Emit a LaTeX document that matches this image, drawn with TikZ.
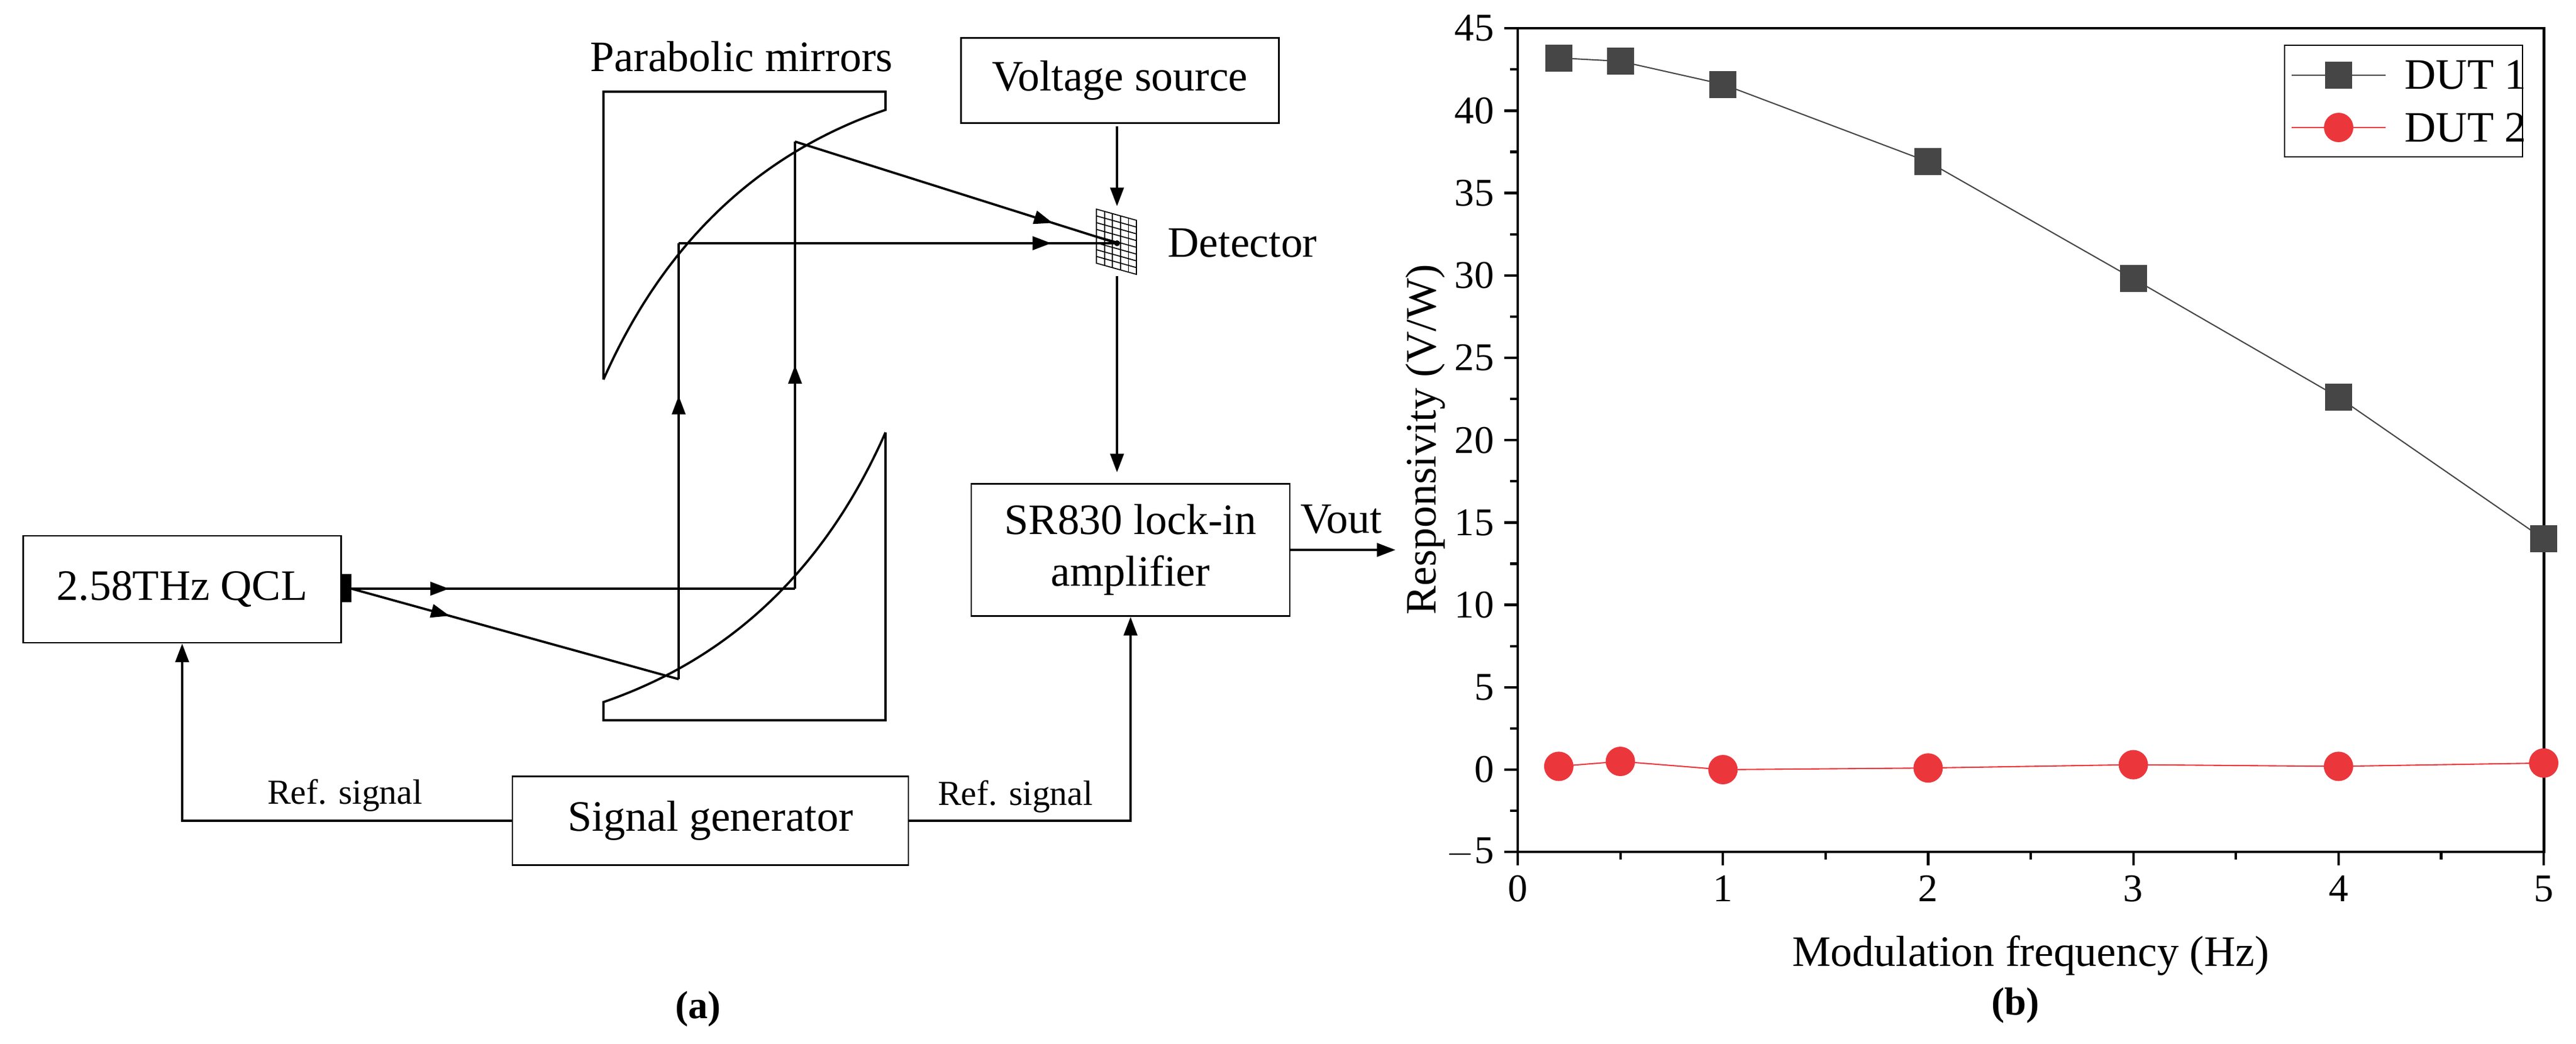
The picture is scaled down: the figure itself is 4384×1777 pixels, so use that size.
\documentclass[tikz,border=0pt]{standalone}
\usepackage{fontspec}
\setmainfont{Liberation Serif}
\usetikzlibrary{arrows.meta,decorations.markings}
\begin{document}
\begin{tikzpicture}[x=0.1mm,y=-0.1mm,
 ln/.style={line width=1.1pt},
 tip/.style={-{Triangle[length=9pt,width=6.5pt]}},
 midarr/.style={decoration={markings,mark=at position #1 with {\arrow{Triangle[length=9pt,width=6.5pt]}}},postaction={decorate}},
 box/.style={draw,line width=0.8pt,inner sep=0pt,font=\fontsize{21}{25}\selectfont,align=center},
 lab/.style={font=\fontsize{21}{24}\selectfont},
 sm/.style={font=\fontsize{17}{20}\selectfont},
 tk/.style={font=\fontsize{19}{22}\selectfont}]
\useasboundingbox (0,0) rectangle (4384,1777);
% boxes
\node[box,minimum width=54.1mm,minimum height=14.5mm] (vs) at (1906,137) {Voltage source};
\node[box,minimum width=54.1mm,minimum height=18.2mm] (qcl) at (310,1003) {2.58THz QCL};
\node[box,minimum width=54.2mm,minimum height=22.5mm] (lia) at (1924,936) {SR830 lock-in\\amplifier};
\node[box,minimum width=67.4mm,minimum height=15.1mm] (sg) at (1209,1397) {Signal generator};
\node[lab] (pm) at (1262,96) {Parabolic mirrors};
\node[lab,anchor=west] (dl) at (1975,414) {Detector};
% mirrors
\draw[ln] (1027,646) -- (1027,156) -- (1507,156) -- (1507,187) .. controls (1289,262) and (1129,415) .. (1027,646);
\draw[ln] (1507,736) -- (1507,1226) -- (1027,1226) -- (1027,1195) .. controls (1245,1120) and (1405,967) .. (1507,736);
% emitter
\fill (581,977) rectangle (598,1025);
\coordinate (src) at (598,1002);
\coordinate (m1) at (1353,1002);
\coordinate (m2) at (1155,1156);
\coordinate (m3) at (1155,414);
\coordinate (m4) at (1353,241);
\coordinate (det) at (1901,414);
% beams
\draw[ln,midarr=0.22] (src) -- (m1);
\draw[ln,midarr=0.3] (src) -- (m2);
\draw[ln,midarr=0.65] (m2) -- (m3);
\draw[ln,midarr=0.5] (m1) -- (m4);
\draw[ln,midarr=0.85] (m3) -- (det);
\draw[ln,midarr=0.8] (m4) -- (det);
% detector grid
\begin{scope}[line width=0.5pt]
\draw (1866,356) -- (1934,375) -- (1934,467) -- (1866,448) -- cycle;
\foreach \i in {1,...,4}{\draw ({1866+13.6*\i},{356+3.8*\i}) -- ({1866+13.6*\i},{448+3.8*\i});}
\foreach \j in {1,...,7}{\draw (1866,{356+11.5*\j}) -- (1934,{375+11.5*\j});}
\end{scope}
\fill (det) circle (5);
\coordinate (dtop) at (1901,351);
\coordinate (dbot) at (1901,470);
\coordinate (vsb) at (1901,215);
\coordinate (liat) at (1901,804);
\draw[ln,tip] (vsb) -- (dtop);
\draw[ln,tip] (dbot) -- (liat);
% vout
\coordinate (vo) at (2375,936);
\draw[ln,tip] (lia.east |- vo) -- (vo);
\node[lab] (vt) at (2283,884) {Vout};
% ref signals
\draw[ln,tip] (sg.west) -| (qcl.south);
\draw[ln,tip] (sg.east) -| (lia.south);
\node[sm] (r1) at (587,1354) {Ref. signal};
\node[sm] (r2) at (1728,1356) {Ref. signal};
\node[font=\fontsize{19}{22}\selectfont\bfseries] (a) at (1188,1717) {(a)};
% ===== chart =====
\def\X#1{2583+349.2*(#1)}
\def\Y#1{1310-28.04*(#1)}
\draw[line width=1.4pt] (2583,48) rectangle (4329,1450);
\foreach \v in {-5,0,...,45}{\draw[line width=1.2pt] (2583,{\Y{\v}}) -- (2560,{\Y{\v}}); \node[tk,anchor=east] at (2555,{\Y{\v}}) {\ifnum\v<0 $-$5\else\v\fi};}
\foreach \v in {-2.5,2.5,...,42.5}{\draw[line width=1.2pt] (2583,{\Y{\v}}) -- (2570,{\Y{\v}});}
\foreach \v in {0,...,5}{\draw[line width=1.2pt] ({\X{\v}},1450) -- ({\X{\v}},1473); \node[tk,anchor=north] at ({\X{\v}},1478) {\v};}
\foreach \v in {0.5,1.5,...,4.5}{\draw[line width=1.2pt] ({\X{\v}},1450) -- ({\X{\v}},1463);}
\node[lab,rotate=90] (yl) at (2426,748) {Responsivity (V/W)};
\node[lab] (xl) at (3456,1626) {Modulation frequency (Hz)};
\node[font=\fontsize{19}{22}\selectfont\bfseries] (b) at (3430,1711) {(b)};
\definecolor{dk}{RGB}{70,70,70}
\definecolor{rd}{RGB}{235,55,60}
\draw[dk,line width=0.6pt] plot coordinates {({\X{0.2}},{\Y{43.2}}) ({\X{0.5}},{\Y{43.0}}) ({\X{1}},{\Y{41.6}}) ({\X{2}},{\Y{36.9}}) ({\X{3}},{\Y{29.8}}) ({\X{4}},{\Y{22.6}}) ({\X{5}},{\Y{14.0}})};
\foreach \a/\b in {0.2/43.2,0.5/43.0,1/41.6,2/36.9,3/29.8,4/22.6,5/14.0}{\fill[dk] ({\X{\a}-23},{\Y{\b}-23}) rectangle ({\X{\a}+23},{\Y{\b}+23});}
\draw[rd,line width=0.6pt] plot coordinates {({\X{0.2}},{\Y{0.2}}) ({\X{0.5}},{\Y{0.5}}) ({\X{1}},{\Y{0}}) ({\X{2}},{\Y{0.1}}) ({\X{3}},{\Y{0.3}}) ({\X{4}},{\Y{0.2}}) ({\X{5}},{\Y{0.4}})};
\foreach \a/\b in {0.2/0.2,0.5/0.5,1/0,2/0.1,3/0.3,4/0.2,5/0.4}{\fill[rd] ({\X{\a}},{\Y{\b}}) circle (25);}
% legend
\draw[line width=0.8pt] (3888,77) rectangle (4293,267);
\draw[dk,line width=0.6pt] (3900,128) -- (4060,128); \fill[dk] (3957,105) rectangle (4003,151);
\draw[rd,line width=0.6pt] (3900,217) -- (4060,217); \fill[rd] (3980,217) circle (25);
\node[lab,anchor=west] (l1) at (4080,128) {DUT 1};
\node[lab,anchor=west] (l2) at (4080,217) {DUT 2};
\end{tikzpicture}
\end{document}
